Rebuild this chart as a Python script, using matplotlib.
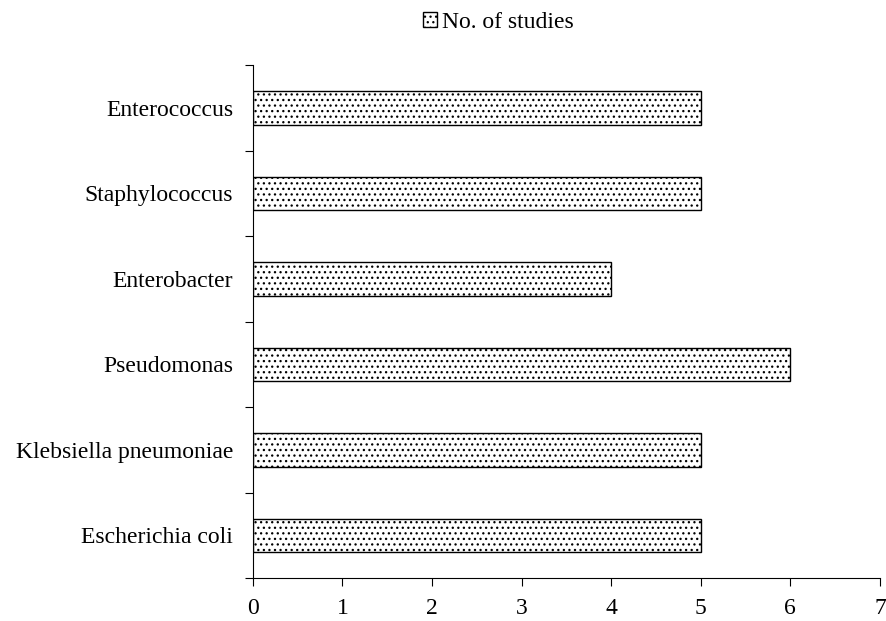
import matplotlib
matplotlib.use("Agg")
import matplotlib.pyplot as plt
import numpy as np
from matplotlib.patches import Patch

categories = ["Escherichia coli", "Klebsiella pneumoniae", "Pseudomonas",
              "Enterobacter", "Staphylococcus", "Enterococcus"]
values = [5, 5, 6, 4, 5, 5]
xticks = [0, 1, 2, 3, 4, 5, 6, 7]

plt.rcParams['font.family'] = ['Liberation Serif', 'DejaVu Serif']
plt.rcParams['hatch.linewidth'] = 0.9

fig = plt.figure(figsize=(8.87, 6.21), dpi=100)
ax = fig.add_axes([0.285, 0.069, 0.707, 0.826])

y = np.arange(len(categories))
ax.barh(y, values, height=0.39, color='white', edgecolor='black',
        hatch='...', linewidth=1.0)

ax.set_xlim(0, 7)
ax.set_ylim(-0.5, len(categories) - 0.5)
ax.set_xticks(xticks)
ax.set_xticklabels([str(t) for t in xticks], fontsize=17)

ax.set_yticks(np.arange(-0.5, len(categories), 1.0))
ax.set_yticklabels([])
ax.set_yticks(y, minor=True)
ax.set_yticklabels(categories, minor=True, fontsize=17)
ax.tick_params(axis='y', which='minor', length=0, pad=14)
ax.tick_params(axis='y', which='major', length=6, direction='out')
ax.tick_params(axis='x', length=6, direction='out', pad=8)

for s in ['top', 'right']:
    ax.spines[s].set_visible(False)

handle = Patch(facecolor='white', edgecolor='black', hatch='...', label='No. of studies')
fig.legend(handles=[handle], loc='upper center', bbox_to_anchor=(0.562, 1.015),
           frameon=False, fontsize=17, handlelength=0.6, handleheight=0.6,
           handletextpad=0.2)

fig.savefig("out.png", dpi=100)
